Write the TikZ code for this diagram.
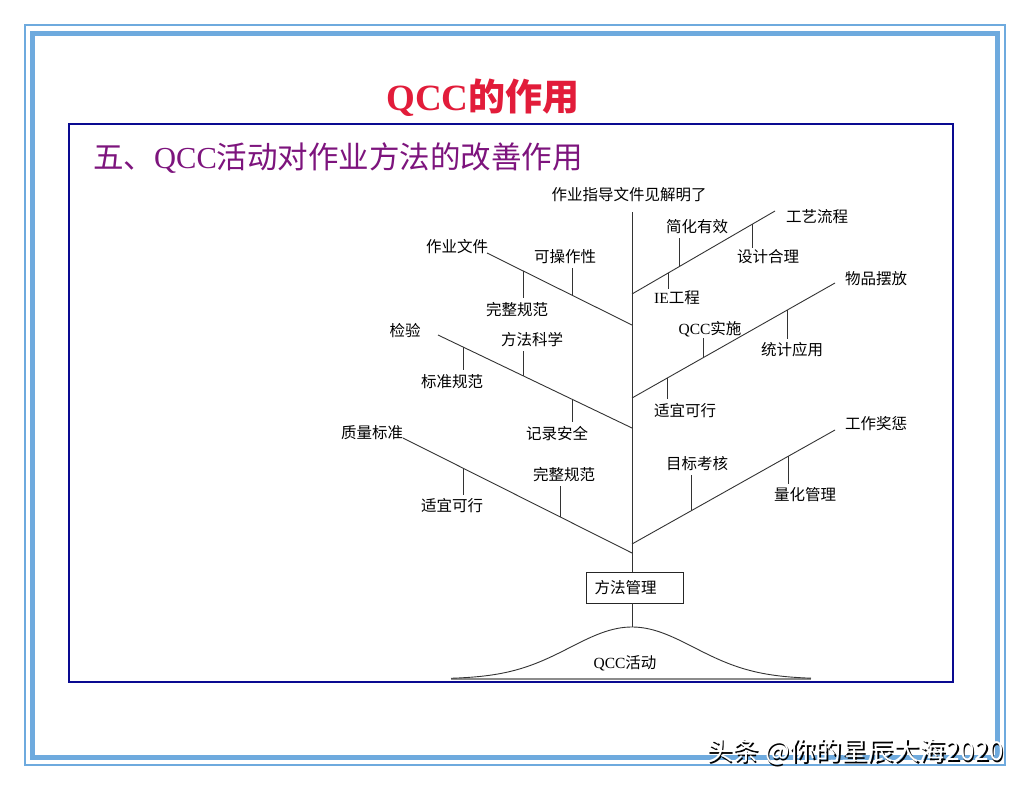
\documentclass[tikz,border=0pt]{standalone}
\usepackage{fontspec}
\setmainfont{Liberation Serif}
\newfontfamily\cjk{Noto Sans CJK SC}
\usepackage{tikz}
\definecolor{frameblue}{RGB}{110,170,222}
\definecolor{boxnavy}{RGB}{10,10,145}
\definecolor{titlered}{RGB}{226,28,58}
\definecolor{subpurple}{RGB}{125,20,125}
\tikzset{
  lbl/.style   = {font=\cjk\fontsize{15.5}{18}\selectfont, inner xsep=1pt, inner ysep=4pt},
  bough/.style = {draw=black!80, line width=0.9pt},
  twig/.style  = {draw=black!80, line width=0.9pt},
  mbox/.style  = {lbl, draw=black!85, line width=0.9pt, minimum height=31pt,
                  text width=80pt, inner xsep=8.5pt, align=left}
}

\begin{document}
\begin{tikzpicture}
  [
    x = 1pt,
    y = -1pt,
  ]
  \useasboundingbox (0,0) rectangle (1030,790);
  \fill[white] (0,0) rectangle (1030,790);

  % frames
  \draw[frameblue, line width=2pt] (25,25) rectangle (1004.5,765);
  \draw[frameblue, line width=5pt] (32.5,33) rectangle (997.5,757.5);
  \draw[boxnavy, line width=2pt] (68.5,123.5) rectangle (953,682);

  % titles
  \node (title) at (483,98)
    {\color{titlered}\fontsize{37}{40}\selectfont\bfseries QCC{\cjk 的作用}};
  \node[anchor=west, inner sep=0pt] (subtitle) at (93,158)
    {\color{subpurple}\cjk\fontsize{30.5}{34}\selectfont 五、{\rmfamily QCC}活动对作业方法的改善作用};

  % trunk
  \coordinate (tp) at (632,212);
  \coordinate (peak) at (632,627);
  \node[lbl] (top) at (629,195) {作业指导文件见解明了};
  \node[mbox] (box) at (634.5,587.5) {方法管理};
  \draw[bough] (tp) -- (tp |- box.north);
  \draw[bough] (tp |- box.south) -- (peak);

  % left boughs
  \coordinate (j1) at (632,325);
  \coordinate (j2) at (632,428);
  \coordinate (j3) at (632,553);
  \coordinate (e1) at (487,253);
  \coordinate (e2) at (438,335);
  \coordinate (e3) at (403,438);
  \node[lbl] (n1) at (457,247) {作业文件};
  \node[lbl] (n2) at (405,331) {检验};
  \node[lbl] (n3) at (372,433) {质量标准};
  \draw[bough] (e1) -- (j1);
  \draw[bough] (e2) -- (j2);
  \draw[bough] (e3) -- (j3);

  % right boughs
  \coordinate (k1) at (632,294);
  \coordinate (k2) at (632,398);
  \coordinate (k3) at (632,544);
  \coordinate (f1) at (775,211);
  \coordinate (f2) at (835,283);
  \coordinate (f3) at (835,430);
  \node[lbl] (m1) at (817,216.5) {工艺流程};
  \node[lbl] (m2) at (876,279) {物品摆放};
  \node[lbl] (m3) at (876,423.5) {工作奖惩};
  \draw[bough] (k1) -- (f1);
  \draw[bough] (k2) -- (f2);
  \draw[bough] (k3) -- (f3);

  % twigs on the left
  \coordinate (a1) at (intersection of e1--j1 and 523,0--523,800);
  \coordinate (a2) at (intersection of e1--j1 and 572,0--572,800);
  \node[lbl] (w1) at (517,309.5) {完整规范};
  \node[lbl] (w2) at (565,256.5) {可操作性};
  \draw[twig] (a1) -- (a1 |- w1.north);
  \draw[twig] (a2) -- (a2 |- w2.south);

  \coordinate (b1) at (intersection of e2--j2 and 463,0--463,800);
  \coordinate (b2) at (intersection of e2--j2 and 523,0--523,800);
  \coordinate (b3) at (intersection of e2--j2 and 572,0--572,800);
  \node[lbl] (w3) at (452,381.5) {标准规范};
  \node[lbl] (w4) at (532,340) {方法科学};
  \node[lbl] (w5) at (557,433.5) {记录安全};
  \draw[twig] (b1) -- (b1 |- w3.north);
  \draw[twig] (b2) -- (b2 |- w4.south);
  \draw[twig] (b3) -- (b3 |- w5.north);

  \coordinate (c1) at (intersection of e3--j3 and 463,0--463,800);
  \coordinate (c2) at (intersection of e3--j3 and 560,0--560,800);
  \node[lbl] (w6) at (452,506) {适宜可行};
  \node[lbl] (w7) at (564,475) {完整规范};
  \draw[twig] (c1) -- (c1 |- w6.north);
  \draw[twig] (c2) -- (c2 |- w7.south);

  % twigs on the right
  \coordinate (d1) at (intersection of k1--f1 and 679,0--679,800);
  \coordinate (d2) at (intersection of k1--f1 and 668,0--668,800);
  \coordinate (d3) at (intersection of k1--f1 and 752,0--752,800);
  \node[lbl] (v1) at (697,226.5) {简化有效};
  \node[lbl, inner ysep=1pt] (v2) at (677,297.5) {{\rmfamily IE}工程};
  \node[lbl, inner ysep=1pt] (v3) at (768,256.5) {设计合理};
  \draw[twig] (d1) -- (d1 |- v1.south);
  \draw[twig] (d2) -- (d2 |- v2.north);
  \draw[twig] (d3) -- (d3 |- v3.north);

  \coordinate (g1) at (intersection of k2--f2 and 703,0--703,800);
  \coordinate (g2) at (intersection of k2--f2 and 667,0--667,800);
  \coordinate (g3) at (intersection of k2--f2 and 787,0--787,800);
  \node[lbl, inner ysep=0pt] (v4) at (710,329.5) {{\rmfamily QCC}实施};
  \node[lbl] (v5) at (685,410.5) {适宜可行};
  \node[lbl] (v6) at (792,350) {统计应用};
  \draw[twig] (g1) -- (g1 |- v4.south);
  \draw[twig] (g2) -- (g2 |- v5.north);
  \draw[twig] (g3) -- (g3 |- v6.north);

  \coordinate (h1) at (intersection of k3--f3 and 691,0--691,800);
  \coordinate (h2) at (intersection of k3--f3 and 788,0--788,800);
  \node[lbl] (v7) at (697,464) {目标考核};
  \node[lbl] (v8) at (805,495) {量化管理};
  \draw[twig] (h1) -- (h1 |- v7.south);
  \draw[twig] (h2) -- (h2 |- v8.north);

  % QCC activity hill
  \draw[black!45, line width=1.5pt] (451,679) -- (811,679);
  \draw[bough] plot[domain=451:811, samples=90, smooth]
    (\x, {679-52*exp(-0.5*((\x-632)/62)*((\x-632)/62))});
  \node[lbl] (hill) at (625,663) {{\rmfamily QCC}活动};

  % watermark
  \node[anchor=east, font=\cjk\fontsize{26}{28}\selectfont, text=black] (wmshade) at (1008.5,753.5)
    {头条 @你的星辰大海2020};
  \node[anchor=east, font=\cjk\fontsize{26}{28}\selectfont, text=white] (wm) at (1007,752)
    {头条 @你的星辰大海2020};
\end{tikzpicture}
\end{document}
